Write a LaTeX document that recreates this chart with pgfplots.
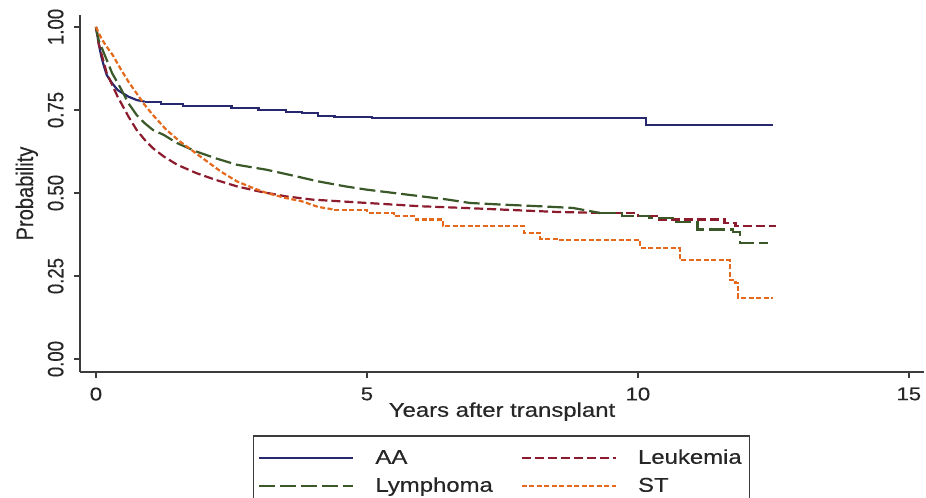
\documentclass[border=0pt]{standalone}
\usepackage{pgfplots}
\pgfplotsset{compat=1.18}
\usepackage{graphicx}
\usepackage{fontspec}
\setmainfont[FakeStretch=1.2, FakeBold=0.4]{Liberation Sans}
\definecolor{cAA}{RGB}{40,40,110}
\definecolor{cLy}{RGB}{58,88,40}
\definecolor{cLe}{RGB}{140,28,45}
\definecolor{cST}{RGB}{228,105,28}
\definecolor{axgray}{RGB}{60,60,60}
\newcommand{\vt}[1]{\scalebox{0.84}[1.2]{#1}}
\begin{document}
\begin{tikzpicture}
\useasboundingbox (-80bp,-126bp) rectangle (846bp,372bp);
\begin{axis}[
  scale only axis,
  width=844bp, height=357bp,
  xmin=-0.295, xmax=15.28,
  ymin=-0.039, ymax=1.036,
  axis x line*=bottom, axis y line*=left,
  axis line style={axgray, line width=1.8bp, -},
  tick style={axgray, line width=1.5bp},
  tick align=outside,
  major tick length=6bp,
  xtick={0,5,10,15},
  ytick={0,0.25,0.5,0.75,1},
  yticklabels={\vt{0.00},\vt{0.25},\vt{0.50},\vt{0.75},\vt{1.00}},
  /pgf/number format/assume math mode=true,
  ticklabel style={font=\fontsize{18.5}{22}\selectfont, text=black!85},
  yticklabel style={rotate=90, anchor=south, yshift=7bp},
  xticklabel style={anchor=north, yshift=-6bp},
  xlabel={Years after transplant},
  ylabel={\vt{Probability}},
  label style={font=\fontsize{20}{24}\selectfont, text=black!85},
  xlabel style={at={(axis description cs:0.5,-0.111)}, anchor=center},
  ylabel style={at={(axis description cs:-0.063,0.5)}, anchor=center, rotate=0},
  legend columns=2,
  legend cell align=left,
  legend image code/.code={\draw[#1] (0bp,0bp) -- (94bp,0bp);},
  legend style={at={(0.4994,-0.1765)}, anchor=north, draw=axgray, line width=1.5bp,
    font=\fontsize{20}{24}\selectfont, text=black!85,
    inner xsep=5bp, inner ysep=10bp, row sep=3bp,
    nodes={inner xsep=3bp, inner ysep=3bp, text height=15bp, text depth=4bp},
    /tikz/every odd column/.append style={column sep=18bp},
    /tikz/every even column/.append style={column sep=25bp}},
  every axis plot/.append style={line width=2.2bp},
]
% AA
\addplot[cAA, sharp plot] coordinates {(0,1.00) (0.05,0.95) (0.1,0.91) (0.15,0.88) (0.2,0.855) (0.3,0.83) (0.4,0.81) (0.5,0.80) (0.6,0.79) (0.75,0.78) (0.9,0.775)};
\addlegendentry{AA}
\addplot[cAA, const plot, forget plot] coordinates {(0.9,0.775) (1.2,0.768) (1.6,0.762) (2.5,0.755) (3.0,0.75) (3.5,0.745) (3.8,0.74) (4.1,0.733) (4.4,0.729) (5.1,0.725) (10.15,0.705) (12.5,0.705)};
% Leukemia
\addplot[cLe, sharp plot, dash pattern=on 9bp off 4bp] coordinates {(0,1) (0.05,0.95) (0.1,0.92) (0.15,0.89) (0.2,0.86) (0.3,0.825) (0.4,0.79) (0.5,0.76) (0.6,0.73) (0.75,0.69) (0.9,0.66) (1.05,0.635) (1.25,0.61) (1.5,0.585) (1.85,0.56) (2.2,0.54) (2.6,0.52) (3.0,0.505) (3.5,0.49) (4.0,0.48) (4.5,0.475) (5.0,0.47) (5.5,0.465) (6.0,0.46) (6.8,0.455) (7.5,0.45) (8.5,0.443) (9.3,0.44)};
\addlegendentry{Leukemia}
\addplot[cLe, const plot, dash pattern=on 9bp off 4bp, forget plot] coordinates {(9.3,0.44) (10,0.43) (10.4,0.42) (11.6,0.41) (11.8,0.40) (12.55,0.40)};
% Lymphoma
\addplot[cLy, sharp plot, dash pattern=on 16bp off 5bp] coordinates {(0,1) (0.05,0.96) (0.1,0.94) (0.2,0.90) (0.3,0.86) (0.44,0.82) (0.6,0.77) (0.75,0.735) (0.9,0.71) (1.05,0.69) (1.25,0.675) (1.5,0.65) (1.85,0.625) (2.2,0.605) (2.6,0.585) (3.15,0.57) (3.7,0.55) (4.1,0.535) (4.6,0.52) (5.0,0.51) (5.5,0.50) (6.0,0.49) (6.5,0.48) (6.9,0.47) (7.5,0.465) (8.2,0.46) (8.8,0.455) (9.3,0.44)};
\addlegendentry{Lymphoma}
\addplot[cLy, const plot, dash pattern=on 16bp off 5bp, forget plot] coordinates {(9.3,0.44) (9.7,0.43) (10.2,0.425) (10.7,0.413) (11.1,0.39) (11.75,0.383) (11.88,0.35) (12.4,0.35)};
% ST
\addplot[cST, sharp plot, dash pattern=on 5bp off 2.5bp] coordinates {(0,1) (0.1,0.965) (0.2,0.94) (0.31,0.915) (0.45,0.875) (0.6,0.835) (0.75,0.80) (0.9,0.765) (1.05,0.735) (1.3,0.69) (1.55,0.655) (1.8,0.625) (2.05,0.595) (2.3,0.565) (2.6,0.535) (2.9,0.515) (3.15,0.50) (3.5,0.485) (3.8,0.475) (4.1,0.458) (4.4,0.45)};
\addlegendentry{ST}
\addplot[cST, const plot, dash pattern=on 5bp off 2.5bp, forget plot] coordinates {(4.4,0.45) (5.0,0.44) (5.5,0.43) (5.9,0.42) (6.4,0.40) (7.9,0.38) (8.2,0.362) (8.5,0.358) (10.04,0.334) (10.77,0.298) (11.7,0.238) (11.8,0.229) (11.85,0.184) (12.5,0.184)};
\end{axis}
\end{tikzpicture}
\end{document}
